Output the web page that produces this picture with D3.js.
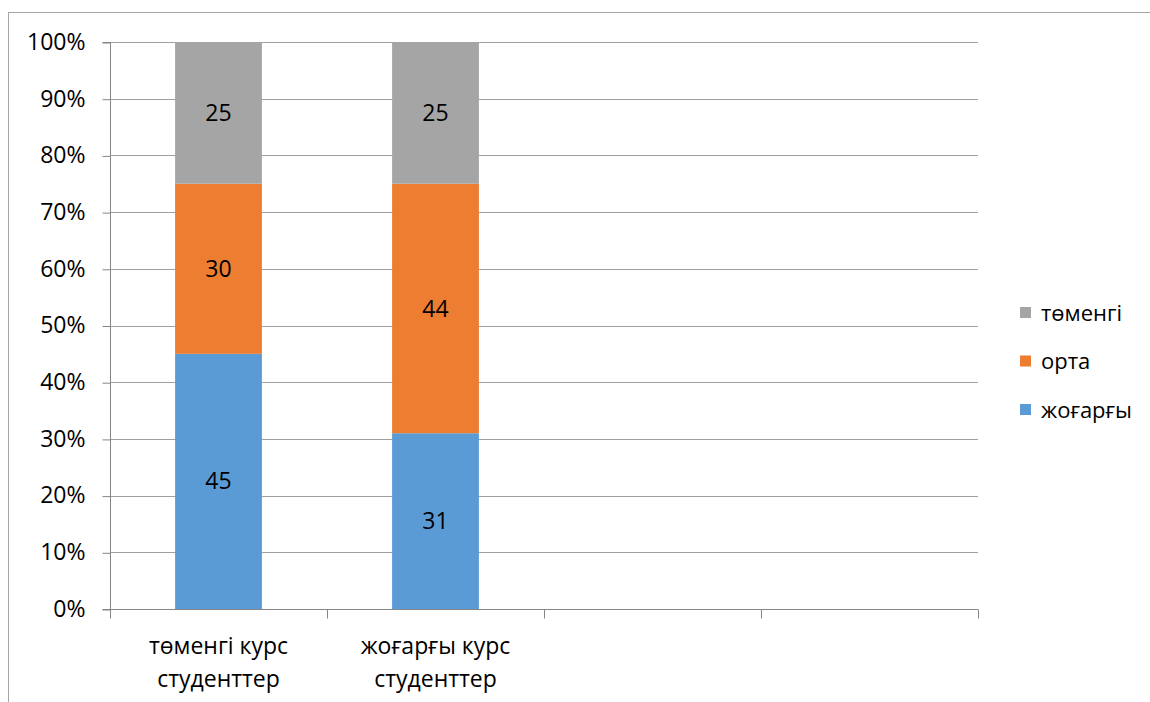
<!DOCTYPE html>
<html>
<head>
<meta charset="utf-8">
<script src="https://cdn.jsdelivr.net/npm/d3@7"></script>
<style>
  html, body { margin: 0; padding: 0; background: #fff; }
  svg { display: block; }
  text { font-family: "Open Sans", "Noto Sans", sans-serif; fill: #000; }
</style>
</head>
<body>
<svg id="chart" width="1150" height="702"></svg>
<script>
// Categories along the x axis (last two slots are empty)
const categories = ["төменгі курс\nстуденттер", "жоғарғы курс\nстуденттер", "", " "];
// Series, bottom to top in the stack
const seriesNames = ["жоғарғы", "орта", "төменгі"];
const seriesColors = ["#5B9BD5", "#ED7D31", "#A5A5A5"];
const highValues = [45, 31, null, null];   // жоғарғы
const midValues = [30, 44, null, null];    // орта
const lowValues = [25, 25, null, null];    // төменгі
const yTicks = [0, 0.1, 0.2, 0.3, 0.4, 0.5, 0.6, 0.7, 0.8, 0.9, 1.0];

const FS = 23;
const svg = d3.select("#chart");
const W = 1150, H = 702;
const margin = { left: 110, right: 172, top: 42, bottom: 93 };

// outer chart frame
svg.append("rect")
  .attr("x", 8.5).attr("y", 12.5)
  .attr("width", W + 20).attr("height", H + 20)
  .attr("fill", "none").attr("stroke", "#A6A6A6").attr("stroke-width", 1);

const x = d3.scaleBand()
  .domain(categories)
  .range([margin.left, W - margin.right])
  .paddingInner(0).paddingOuter(0);

const y = d3.scaleLinear().domain([0, 1]).range([H - margin.bottom, margin.top]);

// gridlines
svg.append("g").selectAll("line").data(yTicks.slice(1)).join("line")
  .attr("x1", margin.left).attr("x2", W - margin.right)
  .attr("y1", d => Math.round(y(d)) + 0.5).attr("y2", d => Math.round(y(d)) + 0.5)
  .attr("stroke", "#A0A0A0").attr("stroke-width", 1);

// stacked rows
const rows = categories.map((c, i) => ({
  cat: c, "жоғарғы": highValues[i], "орта": midValues[i], "төменгі": lowValues[i]
})).filter(r => r["жоғарғы"] != null);

const stacked = d3.stack().keys(seriesNames)
  .offset(d3.stackOffsetExpand)(rows);

const barW = x.bandwidth() * 0.4;
const layers = svg.append("g").selectAll("g").data(stacked).join("g")
  .attr("fill", (d, i) => seriesColors[i]);

layers.selectAll("rect").data(d => d.map(s => ({ s, key: d.key }))).join("rect")
  .attr("x", d => x(d.s.data.cat) + (x.bandwidth() - barW) / 2)
  .attr("y", d => y(d.s[1]))
  .attr("width", barW)
  .attr("height", d => y(d.s[0]) - y(d.s[1]));

layers.selectAll("text").data(d => d.map(s => ({ s, key: d.key }))).join("text")
  .attr("x", d => x(d.s.data.cat) + x.bandwidth() / 2)
  .attr("y", d => (y(d.s[0]) + y(d.s[1])) / 2)
  .attr("dy", "0.35em")
  .attr("text-anchor", "middle")
  .attr("font-size", FS)
  .attr("fill", "#000")
  .text(d => d.s.data[d.key]);

// y axis
const yAxis = svg.append("g")
  .attr("transform", `translate(${margin.left + 0.5},0)`)
  .call(d3.axisLeft(y).tickValues(yTicks).tickFormat(d3.format(".0%")).tickSize(8).tickPadding(17));
yAxis.select(".domain").attr("stroke", "#868686").attr("d", `M-8,${y(1) + 0.5}H0V${y(0) + 0.5}H-8`);
yAxis.selectAll(".tick line").attr("stroke", "#868686").attr("transform", "translate(0,0.5)");
yAxis.selectAll(".tick text").attr("font-size", FS).attr("fill", "#000")
  .style("font-family", '"Open Sans", "Noto Sans", sans-serif');

// x axis
const xAxisG = svg.append("g").attr("transform", `translate(0,${y(0) + 0.5})`);
xAxisG.append("line")
  .attr("x1", margin.left).attr("x2", W - margin.right)
  .attr("stroke", "#868686");
const boundaries = categories.map(c => x(c)).concat([W - margin.right]);
xAxisG.selectAll("line.tk").data(boundaries).join("line").attr("class", "tk")
  .attr("x1", d => Math.round(d) + 0.5).attr("x2", d => Math.round(d) + 0.5)
  .attr("y1", 0).attr("y2", 9)
  .attr("stroke", "#868686");
xAxisG.selectAll("text").data(categories.filter(c => c.trim())).join("text")
  .attr("x", d => x(d) + x.bandwidth() / 2)
  .attr("text-anchor", "middle")
  .attr("font-size", FS)
  .selectAll("tspan").data(d => d.split("\n")).join("tspan")
  .attr("x", function () { return d3.select(this.parentNode).attr("x"); })
  .attr("y", (d, i) => 44 + i * 33)
  .text(d => d);

// legend (top series first)
const legend = svg.append("g");
const legendItems = seriesNames.map((n, i) => ({ n, c: seriesColors[i] })).reverse();
legend.selectAll("g").data(legendItems).join("g")
  .attr("transform", (d, i) => `translate(1020,${313 + i * 48.5})`)
  .each(function (d) {
    const g = d3.select(this);
    g.append("rect").attr("x", 0).attr("y", -6).attr("width", 11).attr("height", 11).attr("fill", d.c);
    g.append("text").attr("x", 21).attr("dy", "0.35em").attr("font-size", FS - 1).text(d.n);
  });
</script>
</body>
</html>
